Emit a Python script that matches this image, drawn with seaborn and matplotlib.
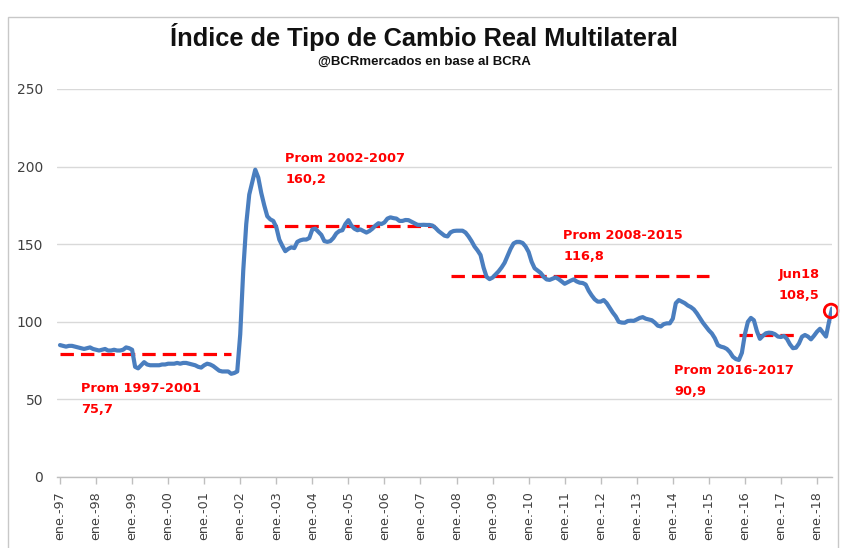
import matplotlib
matplotlib.use("Agg")
import matplotlib.pyplot as plt
import seaborn as sns
import pandas as pd
import numpy as np
from matplotlib.patches import Rectangle

# ---------------- data ----------------
years = ['97', '98', '99', '00', '01', '02', '03', '04', '05', '06', '07',
         '08', '09', '10', '11', '12', '13', '14', '15', '16', '17', '18']
tick_labels = ['ene.-' + y for y in years]

# monthly index, Jan-1997 .. Jun-2018
itcrm = [
    85, 84.5, 84, 84.5, 84.5, 84, 83.5, 83, 82.5, 83, 83.5, 82.5,              # 1997
    82, 81.5, 82, 82.5, 81.5, 81.5, 82, 81.5, 81.5, 82, 83.5, 83,              # 1998
    82, 71, 70, 72, 74, 72.5, 72, 72, 72, 72, 72.5, 72.5,                      # 1999
    73, 73, 73, 73.5, 73, 73.5, 73.5, 73, 72.5, 72, 71, 70.5,                  # 2000
    72, 73, 72.5, 71.5, 70, 68.5, 68, 68, 68, 66.5, 67, 68,                    # 2001
    92, 133, 163, 182, 190, 198, 193, 183, 175, 168, 166, 165,                 # 2002
    161, 153, 149, 145.5, 147, 148, 147.5, 151.5, 152.5, 153, 153, 154,        # 2003
    159.5, 160, 158, 156, 152, 151.5, 152, 154, 157, 158.5, 159, 163,          # 2004
    165.5, 162, 160, 159, 159.5, 158.5, 157.5, 158.5, 160, 162, 163.5, 163,    # 2005
    164, 166.5, 167.3, 166.8, 166.5, 165, 165, 165.6, 165.5, 164.5, 163.5, 162.5,  # 2006
    162.4, 162.5, 162.4, 162.4, 162, 160.5, 158.5, 157, 155.5, 155, 157.6, 158.5,  # 2007
    158.7, 158.7, 158.7, 157.5, 155, 152, 148.5, 146, 143, 135, 129, 127.5,    # 2008
    128.5, 130.5, 132.5, 135, 138, 142.5, 147, 150.5, 151.5, 151.5, 150.8, 148.5,  # 2009
    145, 138.7, 134.5, 133, 131.5, 129, 127.3, 127, 127.8, 128.6, 127.5, 126,  # 2010
    124.5, 125.5, 126.5, 127.3, 126, 125.2, 125, 124, 120, 117, 114.5, 113,    # 2011
    113, 114, 112, 109, 106, 103.5, 100, 99.5, 99.4, 100.5, 100.7, 100.6,      # 2012
    101.5, 102.5, 103, 102, 101.5, 101, 99.5, 97.5, 97, 98.5, 99, 99,          # 2013
    102, 112, 114, 113, 112, 110.5, 109.5, 108, 105.5, 102.5, 99.5, 97,        # 2014
    94.5, 92.5, 89.4, 85, 84, 83.5, 82.5, 80.5, 77.5, 76, 75.4, 80,            # 2015
    92, 100, 102.5, 101, 94, 89, 91, 92.6, 93, 92.8, 92, 90.5,                 # 2016
    90.2, 90.9, 89, 85.5, 83, 83.3, 86, 90.4, 91.5, 90.5, 88.7, 91,            # 2017
    93.6, 95.5, 93, 90.5, 100, 108.5,                                          # 2018
]

# period average reference lines (as drawn): start month, end month, level
avg_start = [0, 68, 130, 226]
avg_end = [57, 125, 216, 245]
avg_level = [79.3, 161.7, 129.5, 91.5]

# annotations
ann_text = ['Prom 1997-2001\n75,7', 'Prom 2002-2007\n160,2',
            'Prom 2008-2015\n116,8', 'Prom 2016-2017\n90,9', 'Jun18\n108,5']
ann_x = [7, 75, 167.5, 204.5, 246]
ann_y = [50.5, 198.5, 149, 62, 123.4]
ann_ha = ['left', 'left', 'left', 'left', 'center']

# ---------------- plot ----------------
sns.set_theme(style="white")
plt.rcParams['font.family'] = ['DejaVu Sans']

fig = plt.figure(figsize=(8.42, 5.48), dpi=100)
fig.patch.set_facecolor('white')
fig.patches.append(Rectangle((8 / 842, -0.01), 830 / 842, 1 - 17 / 548 + 0.01,
                             transform=fig.transFigure, fill=False,
                             edgecolor='#C8C8C8', linewidth=1.0))

ax = fig.add_axes([57 / 842, 1 - 477 / 548, 775 / 842, (477 - 89) / 548])

df = pd.DataFrame({'mes': np.arange(len(itcrm)), 'valor': itcrm})

# average dashed lines
for s, e, lv in zip(avg_start, avg_end, avg_level):
    ax.plot([s, e], [lv, lv], color='#FF0000', linewidth=2.3,
            linestyle=(0, (4.2, 2.2)), zorder=2)

sns.lineplot(data=df, x='mes', y='valor', ax=ax, color='#4A7EBF',
             linewidth=3.0, zorder=3)

# last point circle
ax.scatter([df['mes'].iloc[-1] - 0.3], [df['valor'].iloc[-1] - 1.5], s=95,
           facecolors='none', edgecolors='#FF0000', linewidths=2, zorder=4,
           clip_on=False)

for t, x, y, ha in zip(ann_text, ann_x, ann_y, ann_ha):
    ax.text(x, y, t, color='#FF0000', fontsize=9.3, fontweight='bold',
            ha=ha, va='center', linespacing=1.8, zorder=5)

ax.set_xlim(-1, 257)
ax.set_ylim(0, 250)
ax.set_yticks([0, 50, 100, 150, 200, 250])
ax.set_xticks(np.arange(0, 12 * len(years), 12))
ax.set_xticklabels(tick_labels, rotation=90)
ax.set_xlabel('')
ax.set_ylabel('')

ax.grid(axis='y', color='#D9D9D9', linewidth=1.0)
ax.set_axisbelow(True)
for side in ['left', 'right', 'top']:
    ax.spines[side].set_visible(False)
ax.spines['bottom'].set_color('#BFBFBF')
ax.spines['bottom'].set_linewidth(1.0)

ax.tick_params(axis='x', which='both', bottom=True, length=5, width=1,
               color='#BFBFBF', labelsize=9.2, labelcolor='#404040', pad=5)
ax.tick_params(axis='y', left=False, length=0, labelsize=10,
               labelcolor='#404040', pad=10)

fig.text(424 / 842, 1 - 37 / 548, 'Índice de Tipo de Cambio Real Multilateral',
         ha='center', va='center', fontsize=18.3, fontweight='bold',
         family=['Liberation Sans Narrow', 'Liberation Sans', 'DejaVu Sans'],
         color='#111111')
fig.text(424 / 842, 1 - 62 / 548, '@BCRmercados en base al BCRA',
         ha='center', va='center', fontsize=9.5, fontweight='bold',
         family=['Liberation Sans Narrow', 'Liberation Sans', 'DejaVu Sans'],
         color='#111111')

fig.savefig('out.png', dpi=100, facecolor='white')
